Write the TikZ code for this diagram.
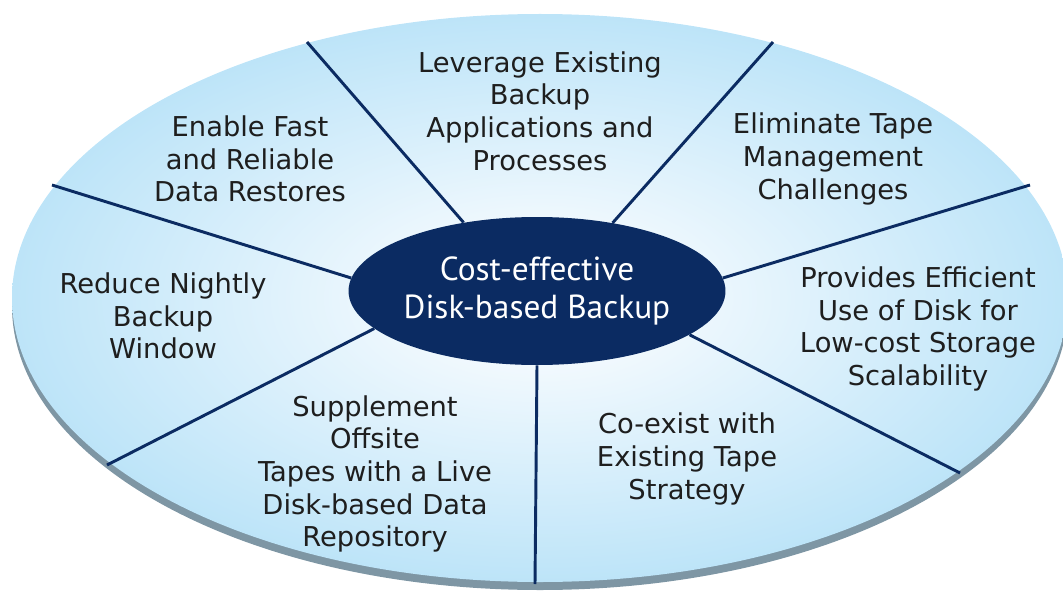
\documentclass[tikz,border=0pt]{standalone}
\usepackage{fontspec}
\setmainfont{DejaVu Sans}
\newfontfamily\hubfont{PT Sans}
\usepackage{tikz}
\usetikzlibrary{shapes.geometric}
\definecolor{hubnavy}{HTML}{0B2B62}
\definecolor{skyrim}{HTML}{7E96A4}
\definecolor{skyedge}{HTML}{BAE3F8}
\definecolor{skyglow}{HTML}{F4FAFE}
\definecolor{ink}{HTML}{1E1E1E}
\pgfdeclareradialshading{diskglow}{\pgfpoint{0bp}{0bp}}{color(0bp)=(skyglow); color(5bp)=(skyglow); color(26bp)=(skyedge); color(50bp)=(skyedge)}
\tikzstyle{topic} = [align=center, text=ink, font=\fontsize{20.5}{24.5}\selectfont]
\tikzstyle{hub} = [ellipse, fill=hubnavy, text=white, inner sep=0pt, minimum width=282pt, minimum height=111pt, align=center, font=\hubfont\fontsize{25}{28.5}\selectfont]
\tikzstyle{spoke} = [draw=hubnavy, line width=2.2pt]

\begin{document}
\begin{tikzpicture}[x=0.75pt,y=-0.75pt]
  \useasboundingbox (0,0) rectangle (1063,599);
  \clip (0,0) rectangle (1063,599);
  % disk and its rim
  \fill[skyrim] (540,306) ellipse [x radius=528, y radius=284];
  \shade[shading=diskglow] (540,298) ellipse [x radius=528, y radius=284];

  \node[hub] (hub) at (537,291) {Cost-effective\\Disk-based Backup};

  \coordinate (o1) at (307,42);
  \coordinate (o2) at (773,42);
  \coordinate (o3) at (1030,185);
  \coordinate (o4) at (960,473);
  \coordinate (o5) at (535,584);
  \coordinate (o6) at (107,465);
  \coordinate (o7) at (52,185);

  \path (o1) edge[spoke] (hub.137);
  \path (o2) edge[spoke] (hub.42);
  \path (o3) edge[spoke] (hub.4);
  \path (o4) edge[spoke] (hub.-16);
  \path (o5) edge[spoke] (hub.south);
  \path (o6) edge[spoke] (hub.193);
  \path (o7) edge[spoke] (hub.176);

  \node[topic] (leverage) at (540,111) {Leverage Existing\\Backup\\Applications and\\Processes};
  \node[topic] (enable) at (250,159) {Enable Fast\\and Reliable\\Data Restores};
  \node[topic] (eliminate) at (833,159) {Eliminate Tape\\Management\\Challenges};
  \node[topic] (reduce) at (163,316) {Reduce Nightly\\Backup\\Window};
  \node[topic] (provides) at (918,329) {Provides Efficient\\Use of Disk for\\Low-cost Storage\\Scalability};
  \node[topic] (supplement) at (375,474) {Supplement\\Offsite\\Tapes with a Live\\Disk-based Data\\Repository};
  \node[topic] (coexist) at (687,459) {Co-exist with\\Existing Tape\\Strategy};
\end{tikzpicture}
\end{document}
